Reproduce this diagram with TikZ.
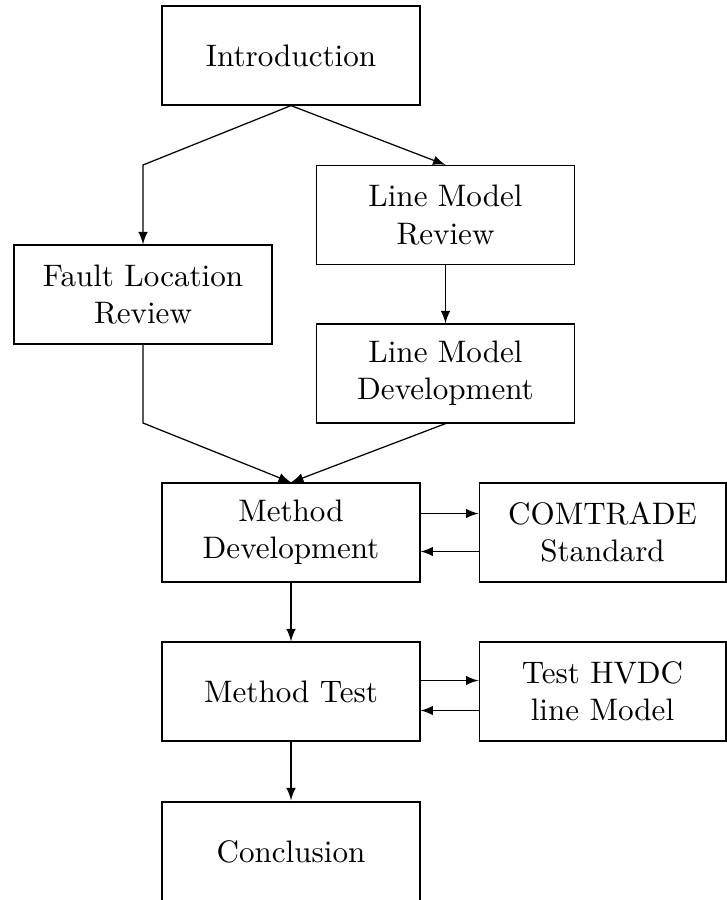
\documentclass[tikz,border=0pt]{standalone}
\usetikzlibrary{calc}
\begin{document}
\begin{tikzpicture}[x=0.0113cm, y=-0.0113cm,
  box/.style={draw, rectangle, align=center, inner sep=0pt,
    minimum width=2.915cm, minimum height=1.119cm},
  sidebox/.style={box, minimum width=2.79cm},
  link/.style={-latex}]
  \useasboundingbox (0,0) rectangle (727,900);

  % boxes
  \node[box] (intro) at (291,55.5) {Introduction};
  \node[box] (lmr) at (445.5,215) {Line Model\\Review};
  \node[box] (flr) at (143,294.5) {Fault Location\\Review};
  \node[box] (lmd) at (445.5,373.5) {Line Model\\Development};
  \node[box] (md) at (291,532.5) {Method\\Development};
  \node[sidebox] (com) at (602.5,532.5) {COMTRADE\\Standard};
  \node[box] (mt) at (291,691.5) {Method Test};
  \node[sidebox] (hv) at (602.5,691.5) {Test HVDC\\line Model};
  \node[box] (conc) at (291,851.5) {Conclusion};

  % bend points
  \coordinate (k1) at (143,165);
  \coordinate (k2) at (143,423);

  % connectors
  \draw[link] (intro.south) -- (k1) -- (flr.north);
  \draw[link] (intro.south) -- (lmr.north);
  \draw[link] (lmr.south) -- (lmd.north);
  \draw[link] (flr.south) -- (k2) -- (md.north);
  \draw[link] (lmd.south) -- (md.north);

  \draw[link] ($(md.east)+(0,-19)$) -- ($(com.west)+(0,-19)$);
  \draw[link] ($(com.west)+(0,19)$) -- ($(md.east)+(0,19)$);
  \draw[link] ($(mt.east)+(0,-11)$) -- ($(hv.west)+(0,-11)$);
  \draw[link] ($(hv.west)+(0,19)$) -- ($(mt.east)+(0,19)$);

  \draw[link] (md.south) -- (mt.north);
  \draw[link] (mt.south) -- ($(conc.north)+(0,-1)$);
\end{tikzpicture}
\end{document}
